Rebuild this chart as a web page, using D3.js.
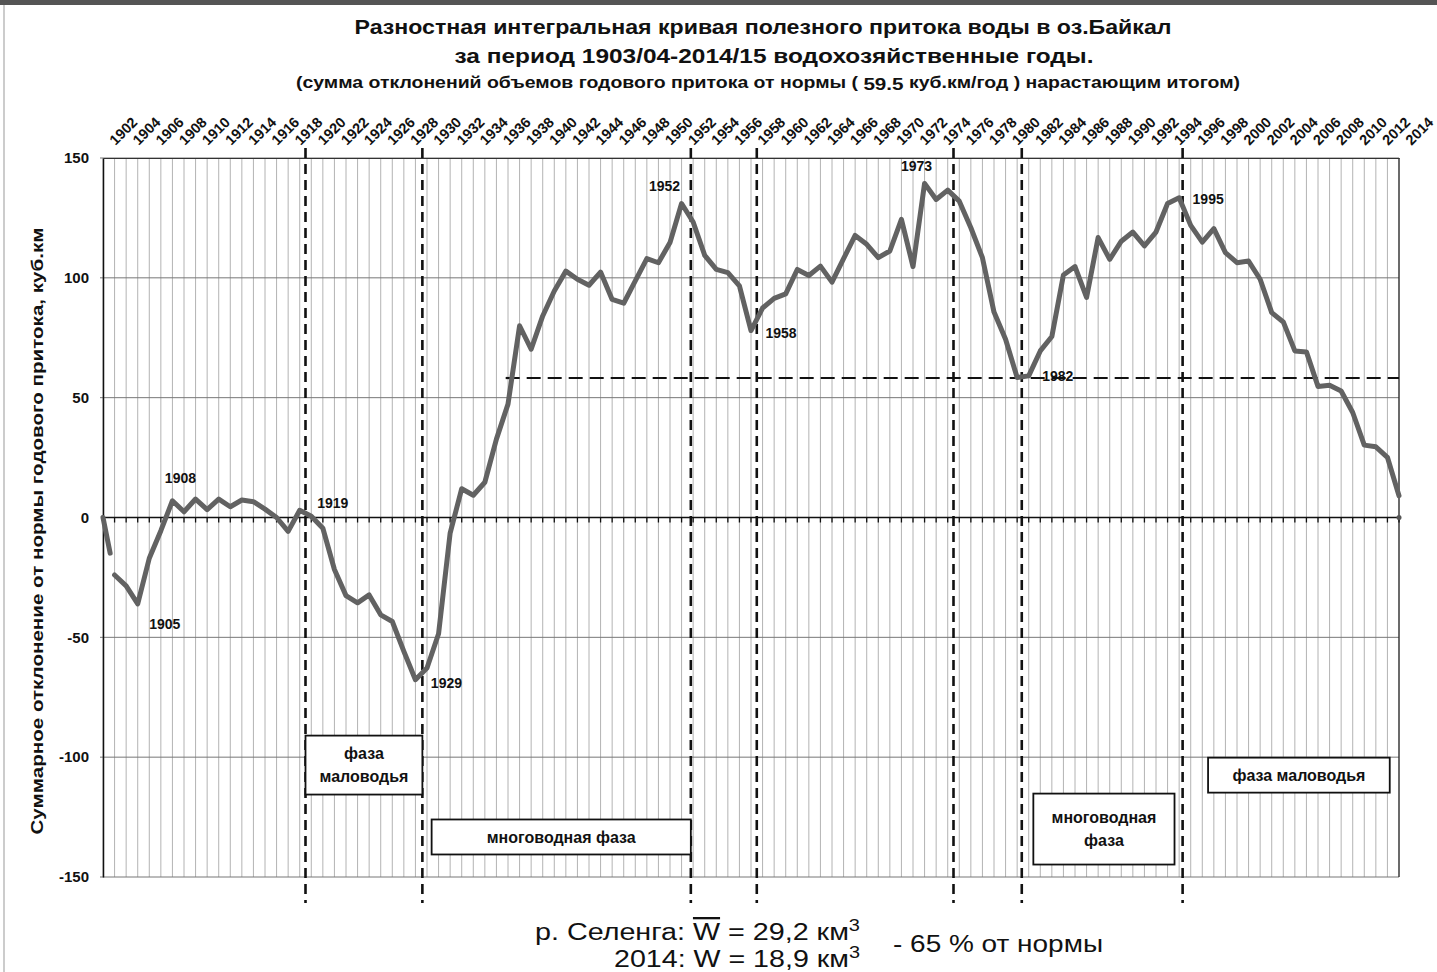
<!DOCTYPE html>
<html>
<head>
<meta charset="utf-8">
<script src="https://cdnjs.cloudflare.com/ajax/libs/d3/7.8.5/d3.min.js"></script>
<style>
body { margin: 0; background: #fff; }
svg { display: block; }
.bold { font-family: "Liberation Sans", Arial, sans-serif; font-weight: bold; fill: #111; }
</style>
</head>
<body>
<div id="chart"></div>
<script>
// cumulative deviation of annual inflow from the norm, 1902 .. 2014
var startYear = 1902;
var endYear = 2014;
var inflow = [
    0, -24, -28.5, -36, -17, -5.5, 7, 2.4, 7.7, 3.3,
    7.7, 4.5, 7.3, 6.6, 3.5, 0, -5.8, 3, 0.5, -4.5,
    -21.7, -32.6, -35.6, -32.3, -40.6, -43.4, -55.9, -67.7, -62.8, -48.5,
    -6.5, 12, 9.3, 14.7, 32.7, 47.3, 80, 70.2, 84.1, 94.5,
    102.8, 99.4, 96.9, 102.4, 91, 89.4, 98.7, 108, 106.3, 114.7,
    131, 123.3, 109.4, 103.5, 102.2, 96.6, 78, 87.4, 91.4, 93.3,
    103.5, 101, 104.9, 98.2, 108, 117.7, 114, 108.4, 111.2, 124.4,
    104.7, 139.4, 132.7, 136.6, 132, 120.9, 108.4, 85.7, 74.4, 58.4,
    59.1, 69.5, 75.5, 101.2, 104.7, 91.8, 116.8, 107.7, 115.3, 119.1,
    113.3, 119.1, 131, 133.4, 121.9, 114.9, 120.5, 110.5, 106.3, 107,
    99.4, 85.5, 81.6, 69.5, 69.1, 54.7, 55.2, 52.8, 43.8, 30.2,
    29.5, 25.1, 9.1
];
var yTicks = [-150, -100, -50, 0, 50, 100, 150];
var topLabels = [
    1902, 1904, 1906, 1908, 1910, 1912, 1914, 1916, 1918, 1920,
    1922, 1924, 1926, 1928, 1930, 1932, 1934, 1936, 1938, 1940,
    1942, 1944, 1946, 1948, 1950, 1952, 1954, 1956, 1958, 1960,
    1962, 1964, 1966, 1968, 1970, 1972, 1974, 1976, 1978, 1980,
    1982, 1984, 1986, 1988, 1990, 1992, 1994, 1996, 1998, 2000,
    2002, 2004, 2006, 2008, 2010, 2012, 2014
];
var markedYears = [1905, 1908, 1919, 1929, 1952, 1958, 1973, 1982, 1995];
var phaseBounds = [1919.5, 1929.6, 1952.8, 1958.5, 1975.5, 1981.4, 1995.3];
var levelValue = 58.2;
var levelFrom = 1936.8;
var phaseNames = [["фаза", "маловодья"], ["многоводная фаза"], ["многоводная", "фаза"], ["фаза маловодья"]];
var phaseFrom = [1919.5, 1930.4, 1982.4, 1997.5];
var phaseTo = [1929.6, 1952.8, 1994.6, 2013.2];

var points = inflow.map(function(v, i) { return {year: startYear + i, value: v}; });

var W = 1437, H = 972;
var svg = d3.select("#chart").append("svg").attr("width", W).attr("height", H);

var x = d3.scaleLinear().domain([startYear, endYear]).range([103, 1399]);
var y = d3.scaleLinear().domain([-150, 150]).range([877, 158]);

// page frame remnants
svg.append("rect").attr("x", 0).attr("y", 0).attr("width", W).attr("height", 5).attr("fill", "#555");
svg.append("line").attr("x1", 4).attr("x2", 4).attr("y1", 5).attr("y2", H)
    .attr("stroke", "#999").attr("stroke-width", 1);

// titles
function title(text, cx, base, size, len) {
    return svg.append("text").attr("class", "bold")
        .attr("x", cx).attr("y", base)
        .attr("text-anchor", "middle")
        .attr("textLength", len).attr("lengthAdjust", "spacingAndGlyphs")
        .style("font-family", "'Liberation Sans Narrow', 'Liberation Sans', Arial, sans-serif")
        .style("font-size", size + "px")
        .text(text);
}
title("Разностная интегральная кривая полезного притока воды в оз.Байкал", 763, 34, 21, 817);
title("за период 1903/04-2014/15 водохозяйственные годы.", 774, 63, 21, 639);
var t3 = svg.append("text").attr("class", "bold")
    .attr("x", 768).attr("y", 88).attr("text-anchor", "middle")
    .attr("textLength", 944).attr("lengthAdjust", "spacingAndGlyphs")
    .style("font-family", "'Liberation Sans Narrow', 'Liberation Sans', Arial, sans-serif")
    .style("font-size", "16px");
t3.append("tspan").text("(сумма отклонений объемов годового притока от нормы ( ");
t3.append("tspan").attr("dy", 2).style("font-size", "17px").text("59.5");
t3.append("tspan").attr("dy", -2).text("  куб.км/год ) нарастающим итогом)");

// grid
var plot = svg.append("g");
plot.selectAll("line.vgrid").data(points).enter().append("line")
    .attr("class", "vgrid")
    .attr("x1", function(d) { return x(d.year); })
    .attr("x2", function(d) { return x(d.year); })
    .attr("y1", y(150)).attr("y2", y(-150))
    .attr("stroke", "#a0a0a0").attr("stroke-width", 0.8);

plot.selectAll("line.hgrid").data(yTicks.filter(function(t) { return t !== 0; })).enter().append("line")
    .attr("class", "hgrid")
    .attr("x1", 100).attr("x2", x(endYear))
    .attr("y1", function(d) { return y(d); })
    .attr("y2", function(d) { return y(d); })
    .attr("stroke", "#777").attr("stroke-width", 1);

plot.append("line").attr("x1", x(endYear)).attr("x2", x(endYear))
    .attr("y1", y(150)).attr("y2", y(-150)).attr("stroke", "#222").attr("stroke-width", 1.2);

// zero line with year ticks
plot.append("line").attr("x1", x(startYear)).attr("x2", x(endYear))
    .attr("y1", y(0)).attr("y2", y(0)).attr("stroke", "#111").attr("stroke-width", 1.5);
plot.selectAll("line.ztick").data(points).enter().append("line")
    .attr("class", "ztick")
    .attr("x1", function(d) { return x(d.year); })
    .attr("x2", function(d) { return x(d.year); })
    .attr("y1", y(0)).attr("y2", y(0) + 5)
    .attr("stroke", "#111").attr("stroke-width", 1.3);

// y axis
var yAxis = svg.append("g").attr("transform", "translate(" + x(startYear) + ",0)")
    .call(d3.axisLeft(y).tickValues(yTicks).tickSize(0).tickPadding(14)
        .tickFormat(function(d) { return String(d); }));
yAxis.select(".domain").attr("stroke", "#111").attr("stroke-width", 1.5);
yAxis.selectAll("text").attr("class", "bold").style("font-size", "15px");

// top axis with slanted years
var topAxis = svg.append("g").attr("transform", "translate(0," + y(150) + ")")
    .call(d3.axisTop(x).tickValues(topLabels).tickSize(0).tickFormat(d3.format("d")));
topAxis.select(".domain").attr("stroke", "#333").attr("stroke-width", 1.2);
topAxis.selectAll("text").attr("class", "bold")
    .attr("x", 0).attr("y", 0).attr("dy", 0)
    .attr("transform", "translate(12,-12) rotate(-45)")
    .style("text-anchor", "start")
    .style("font-size", "14.5px");

svg.append("text").attr("class", "bold")
    .attr("transform", "translate(43," + 531 + ") rotate(-90)")
    .attr("text-anchor", "middle")
    .attr("textLength", 607).attr("lengthAdjust", "spacingAndGlyphs")
    .style("font-size", "17px")
    .text("Суммарное отклонение от нормы годового притока, куб.км");

// phase boundaries and level line
svg.selectAll("line.bound").data(phaseBounds).enter().append("line")
    .attr("class", "bound")
    .attr("x1", function(d) { return x(d); })
    .attr("x2", function(d) { return x(d); })
    .attr("y1", 148).attr("y2", 903)
    .attr("stroke", "#111").attr("stroke-width", 2.6)
    .attr("stroke-dasharray", "10,6");

svg.append("line")
    .attr("x1", x(levelFrom)).attr("x2", x(endYear))
    .attr("y1", y(levelValue)).attr("y2", y(levelValue))
    .attr("stroke", "#111").attr("stroke-width", 2.2)
    .attr("stroke-dasharray", "14,7");

// phase boxes
var boxValues = [[-91, -115.6], [-126, -140.6], [-115.2, -144.8], [-100.2, -114.8]];
var lineStep = 23;
phaseNames.forEach(function(lines, i) {
    var x0 = x(phaseFrom[i]), x1 = x(phaseTo[i]);
    var y0 = y(boxValues[i][0]), y1 = y(boxValues[i][1]);
    svg.append("rect").attr("x", x0).attr("y", y0)
        .attr("width", x1 - x0).attr("height", y1 - y0)
        .attr("fill", "#fff").attr("stroke", "#111").attr("stroke-width", 1.8);
    var cy = (y0 + y1) / 2 - (lines.length - 1) * lineStep / 2;
    lines.forEach(function(s, k) {
        svg.append("text").attr("class", "bold")
            .attr("x", (x0 + x1) / 2).attr("y", cy + k * lineStep)
            .attr("dy", "0.35em").attr("text-anchor", "middle")
            .style("font-size", "16px")
            .text(s);
    });
});

// the curve: first leg partly broken as in the original
var line = d3.line()
    .x(function(d) { return x(d.year); })
    .y(function(d) { return y(d.value); });

var firstLeg = svg.append("path").datum(points.slice(0, 2))
    .attr("d", line).attr("fill", "none")
    .attr("stroke", "#626262").attr("stroke-width", 5).attr("stroke-linecap", "round");
var legLen = firstLeg.node().getTotalLength();
firstLeg.attr("stroke-dasharray", (legLen * 0.62) + "," + legLen);

svg.append("path").datum(points.slice(1))
    .attr("d", line).attr("fill", "none")
    .attr("stroke", "#626262").attr("stroke-width", 5)
    .attr("stroke-linejoin", "round").attr("stroke-linecap", "round");

svg.append("circle").attr("cx", x(endYear)).attr("cy", y(0)).attr("r", 2.5).attr("fill", "#555");

// year labels near extremes
var labelOffset = {
    1905: [27, 25], 1908: [8, -18], 1919: [33, -2], 1929: [31, 8], 1952: [-17, -13],
    1958: [30, 7], 1973: [-8, -12], 1982: [29, 5], 1995: [29, 6]
};
svg.selectAll("text.mark").data(points.filter(function(d) { return markedYears.indexOf(d.year) >= 0; }))
    .enter().append("text")
    .attr("class", "bold")
    .attr("x", function(d) { return x(d.year) + labelOffset[d.year][0]; })
    .attr("y", function(d) { return y(d.value) + labelOffset[d.year][1]; })
    .attr("text-anchor", "middle")
    .style("font-size", "14px")
    .text(function(d) { return d.year; });

// note at the bottom
var note = svg.append("g").style("font-family", "'Liberation Sans', Arial, sans-serif").style("fill", "#111");
var n1 = note.append("text").attr("x", 535).attr("y", 940).style("font-size", "23px")
    .attr("textLength", 325).attr("lengthAdjust", "spacingAndGlyphs");
n1.append("tspan").text("р. Селенга:  ");
n1.append("tspan").style("text-decoration", "overline").text("W");
n1.append("tspan").text(" = 29,2 км");
n1.append("tspan").attr("dy", -9).style("font-size", "16px").text("3");
var n2 = note.append("text").attr("x", 614).attr("y", 967).style("font-size", "23px")
    .attr("textLength", 246).attr("lengthAdjust", "spacingAndGlyphs");
n2.append("tspan").text("2014:  W = 18,9 км");
n2.append("tspan").attr("dy", -9).style("font-size", "16px").text("3");
note.append("text").attr("x", 893).attr("y", 952).style("font-size", "24px")
    .attr("textLength", 210).attr("lengthAdjust", "spacingAndGlyphs")
    .text("- 65 % от нормы");
</script>
</body>
</html>
